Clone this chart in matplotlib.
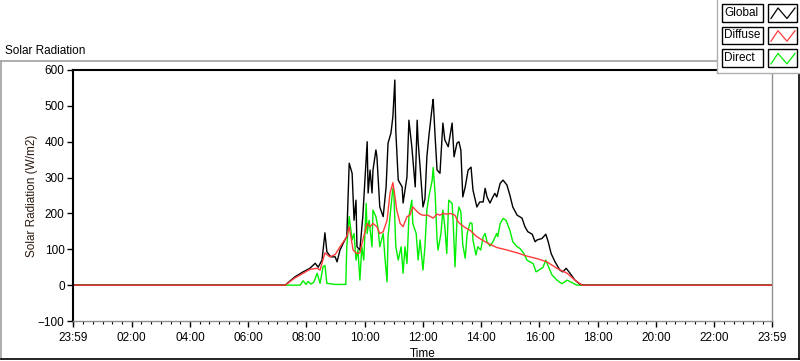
import numpy as np
import matplotlib
matplotlib.use("Agg")
import matplotlib.pyplot as plt
from matplotlib.lines import Line2D
from matplotlib.patches import Rectangle

plt.rcParams['font.family'] = ['Liberation Sans', 'DejaVu Sans']

# time in minutes from midnight, values in W/m2
global_min = [-1, 436, 456, 473, 487, 498, 504, 512, 518, 522, 530, 539, 543, 549, 559, 563, 568, 574,
              578, 582, 584, 590, 596, 605, 607, 611, 615, 617, 623, 625, 631, 638, 644, 648, 654, 658,
              662, 664, 669, 677, 679, 687, 691, 697, 704, 708, 710, 714, 720, 724, 728, 732, 739, 741,
              745, 749, 755, 761, 765, 772, 780, 784, 790, 794, 798, 802, 807, 813, 819, 823, 831, 837,
              844, 848, 852, 858, 864, 868, 872, 879, 885, 893, 899, 905, 914, 924, 930, 936, 945, 951,
              955, 965, 973, 978, 984, 992, 1002, 1008, 1015, 1023, 1033, 1043, 1050, 1439]
global_wm2 = [0, 0, 23, 37, 47, 61, 50, 70, 146, 93, 79, 79, 65, 98, 126, 135, 340, 312,
              181, 237, 107, 98, 191, 400, 257, 321, 257, 321, 377, 360, 218, 191, 274, 396, 424, 470,
              572, 430, 293, 274, 229, 302, 460, 386, 274, 460, 400, 330, 218, 240, 358, 414, 498, 518,
              414, 321, 312, 452, 405, 386, 452, 358, 396, 400, 377, 246, 274, 321, 329, 265, 218, 232,
              232, 270, 246, 229, 246, 256, 246, 284, 293, 279, 251, 218, 195, 187, 163, 149, 142, 121,
              126, 130, 142, 121, 88, 65, 42, 37, 47, 33, 14, 3, 0, 0]

diffuse_min = [-1, 436, 456, 473, 487, 502, 508, 518, 528, 539, 549, 563, 568, 576, 584, 590, 596, 605,
               611, 617, 625, 631, 638, 646, 652, 658, 662, 666, 673, 679, 687, 693, 699, 708, 714, 720,
               730, 741, 749, 755, 761, 769, 776, 786, 792, 800, 810, 817, 831, 852, 872, 893, 914, 934,
               955, 975, 996, 1017, 1033, 1048, 1439]
diffuse_wm2 = [0, 0, 20, 33, 44, 47, 42, 90, 79, 85, 107, 135, 163, 98, 88, 90, 126, 172,
               163, 172, 163, 144, 149, 181, 256, 286, 250, 209, 172, 163, 191, 195, 218, 205, 198, 195,
               195, 187, 198, 195, 200, 198, 200, 195, 177, 167, 158, 153, 135, 118, 105, 98, 90, 81,
               74, 65, 47, 33, 14, 0, 0]

direct_min = [-1, 467, 473, 479, 483, 489, 495, 502, 508, 514, 518, 522, 539, 561, 563, 568, 574, 578,
              582, 586, 590, 594, 598, 603, 605, 609, 615, 617, 623, 627, 631, 638, 642, 646, 648, 654,
              658, 660, 664, 669, 675, 679, 683, 687, 691, 697, 699, 706, 710, 714, 720, 724, 728, 732,
              739, 741, 745, 749, 751, 757, 761, 765, 769, 773, 780, 782, 786, 790, 794, 798, 802, 807,
              811, 817, 821, 823, 829, 833, 839, 844, 848, 852, 858, 864, 872, 874, 879, 885, 891, 899,
              905, 914, 920, 928, 934, 940, 947, 953, 961, 967, 973, 977, 986, 996, 1006, 1017, 1027,
              1037, 1439]
direct_wm2 = [0, 0, 12, 2, 10, 3, 8, 33, 5, 51, 55, 5, 2, 2, 107, 191, 126, 144,
              70, 98, 14, 107, 70, 228, 144, 181, 107, 209, 191, 163, 107, 144, 70, 9, 135, 218,
              270, 256, 107, 70, 107, 33, 107, 60, 191, 237, 172, 144, 70, 126, 42, 107, 209, 246,
              293, 328, 256, 126, 98, 144, 209, 163, 88, 237, 228, 181, 51, 181, 218, 205, 112, 75,
              144, 174, 172, 126, 84, 107, 98, 135, 144, 121, 109, 121, 144, 135, 172, 186, 181, 153,
              121, 107, 102, 88, 70, 65, 60, 37, 44, 49, 70, 56, 28, 14, 4, 14, 7,
              0, 0]

tick_pos = [-1, 120, 240, 360, 480, 600, 720, 840, 960, 1080, 1200, 1320, 1439]
tick_labels = ['23:59', '02:00', '04:00', '06:00', '08:00', '10:00', '12:00', '14:00',
               '16:00', '18:00', '20:00', '22:00', '23:59']

W, H = 800, 361
fig = plt.figure(figsize=(W / 100, H / 100), dpi=100)


def fx(x):
    return x / W


def fy(y):
    return 1 - y / H


ax = fig.add_axes([fx(73), fy(321), fx(772) - fx(73), fy(70) - fy(321)])
# direct drawn first so the night baseline shows global/diffuse on top
ax.plot(direct_min, direct_wm2, color='#00ee00', lw=1.0)
ax.plot(global_min, global_wm2, color='black', lw=1.0)
ax.plot(diffuse_min, diffuse_wm2, color='#ff3b3b', lw=1.0)

ax.set_xlim(-1, 1439)
ax.set_ylim(-100, 600)
ax.set_yticks(range(-100, 601, 100))
ax.set_xticks(tick_pos)
ax.set_xticklabels(tick_labels)
ax.set_xticks(np.arange(0, 1440, 20), minor=True)
ax.tick_params(axis='both', labelsize=8.5, length=4, width=1, color='black', pad=2)
ax.tick_params(axis='x', which='minor', length=2.5, width=0.8)
ax.tick_params(axis='x', pad=4)

for s in ['left', 'top']:
    ax.spines[s].set_color('black')
    ax.spines[s].set_linewidth(1.5)
for s in ['right', 'bottom']:
    ax.spines[s].set_color('#909090')
    ax.spines[s].set_linewidth(1.0)

ax.set_ylabel('Solar Radiation (W/m2)', fontsize=8.5, color='#2a1a10')
ax.yaxis.set_label_coords(-0.05, 0.5)
ax.set_xlabel('Time', fontsize=8.5, labelpad=3)

# outer panel frame
fig.add_artist(Line2D([fx(1), fx(1)], [fy(61), fy(359)], color='#a0a0a0', lw=1.2))
fig.add_artist(Line2D([fx(1), fx(718)], [fy(61), fy(61)], color='#a0a0a0', lw=1.2))
fig.add_artist(Line2D([fx(1), fx(799)], [fy(359), fy(359)], color='black', lw=1.2))
fig.add_artist(Line2D([fx(799), fx(799)], [fy(74), fy(359)], color='black', lw=1.2))
fig.text(fx(5), fy(54), 'Solar Radiation', fontsize=8.5, va='baseline', ha='left')

# legend block
fig.add_artist(Rectangle((fx(717), fy(73)), fx(800) - fx(717), fy(0) - fy(73),
                         transform=fig.transFigure, facecolor='white', edgecolor='none', zorder=5))
fig.add_artist(Line2D([fx(717), fx(717)], [fy(73), fy(0)], color='#b0b0b0', lw=1, zorder=6))
fig.add_artist(Line2D([fx(717), fx(800)], [fy(73), fy(73)], color='#b0b0b0', lw=1, zorder=6))

legend_names = ['Global', 'Diffuse', 'Direct']
legend_colors = ['black', '#ff3b3b', '#00ee00']
for i, (name, col) in enumerate(zip(legend_names, legend_colors)):
    top = 4 + i * 22.7
    bot = top + 17.5
    fig.add_artist(Rectangle((fx(722), fy(bot)), fx(763) - fx(722), fy(top) - fy(bot),
                             transform=fig.transFigure, facecolor='white', edgecolor='black',
                             lw=1, zorder=7))
    fig.text(fx(724), fy((top + bot) / 2), name, fontsize=8.5, va='center', ha='left', zorder=8)
    fig.add_artist(Rectangle((fx(768), fy(bot)), fx(797) - fx(768), fy(top) - fy(bot),
                             transform=fig.transFigure, facecolor='white', edgecolor='black',
                             lw=1, zorder=7))
    zx = [771, 778, 787, 795]
    zy = [bot - 3, top + 4, bot - 3, top + 4]
    fig.add_artist(Line2D([fx(v) for v in zx], [fy(v) for v in zy], color=col, lw=0.9, zorder=8))

fig.savefig('out.png', dpi=100)
